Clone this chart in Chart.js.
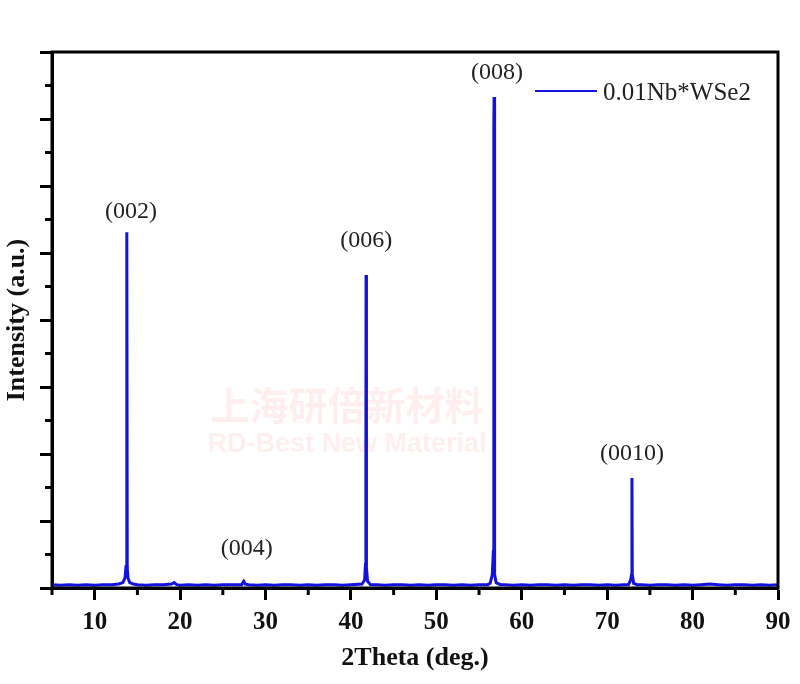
<!DOCTYPE html>
<html>
<head>
<meta charset="utf-8">
<title>XRD 0.01Nb*WSe2</title>
<script src="https://cdn.jsdelivr.net/npm/chart.js@4.4.1/dist/chart.umd.min.js"></script>
<style>
  body { margin: 0; background: #fff; }
  canvas { display: block; }
</style>
</head>
<body>
<canvas id="xrdChart" width="800" height="684"></canvas>
<script>
// XRD pattern (intensity in arbitrary units, 0..8 = one unit per major tick)
const twoTheta = [
  5, 6, 7, 8, 9, 10, 11, 12, 12.8, 13.3, 13.55, 13.68, 13.74, 13.76, 13.78, 13.81, 13.9, 14.1, 14.5,
  15, 16, 17, 18, 19, 19.3, 19.6, 20, 21, 22, 23, 24, 25, 26, 27.2, 27.45, 27.6, 28,
  29, 30, 31, 32, 33, 34, 35, 36, 37, 38, 39, 40, 41.3, 41.6, 41.7, 41.74, 41.76, 41.77,
  41.79, 41.84, 41.95, 42.3, 43, 44, 45, 46, 47, 48, 49, 50, 51, 52, 53, 54, 55, 56,
  56.3, 56.55, 56.68, 56.72, 56.74, 56.76, 56.79, 56.85, 57.0, 57.5, 58, 59, 60, 61, 62,
  63, 64, 65, 66, 67, 68, 69, 70, 71, 72, 72.5, 72.75, 72.86, 72.9, 72.94, 73.1, 73.5,
  74, 75, 76, 77, 78, 79, 80, 81, 82, 83, 84, 85, 86, 87, 88, 89, 90
];
const intensity = [
  0.05, 0.04, 0.05, 0.04, 0.05, 0.04, 0.05, 0.05, 0.06, 0.08, 0.15, 0.34, 0.2, 5.05, 5.31, 0.3, 0.15, 0.08, 0.06,
  0.05, 0.04, 0.05, 0.05, 0.06, 0.08, 0.05, 0.04, 0.05, 0.04, 0.05, 0.04, 0.05, 0.05, 0.05, 0.1, 0.06, 0.05,
  0.04, 0.05, 0.04, 0.05, 0.05, 0.04, 0.05, 0.04, 0.05, 0.05, 0.04, 0.05, 0.06, 0.12, 0.35, 0.6, 1.98, 4.67,
  0.6, 0.3, 0.1, 0.05, 0.05, 0.04, 0.05, 0.05, 0.04, 0.05, 0.04, 0.05, 0.05, 0.04, 0.05, 0.04, 0.05, 0.05,
  0.07, 0.2, 0.57, 0.5, 6.87, 7.33, 0.6, 0.2, 0.08, 0.05, 0.05, 0.04, 0.05, 0.04, 0.05,
  0.05, 0.04, 0.05, 0.04, 0.05, 0.05, 0.04, 0.05, 0.04, 0.05, 0.05, 0.12, 0.2, 1.64, 0.2, 0.07, 0.05,
  0.05, 0.04, 0.05, 0.05, 0.04, 0.05, 0.04, 0.05, 0.06, 0.05, 0.04, 0.05, 0.05, 0.04, 0.05, 0.04, 0.05
];

const seriesName = "0.01Nb*WSe2";

// peak indexing labels
const hklLabels = ["(002)", "(004)", "(006)", "(008)", "(0010)"];
const hklTheta = [14.25, 27.8, 41.8, 57.1, 72.9];
const hklLevel = [5.61, 0.58, 5.19, 7.69, 2.01];

const xTicksMajor = [10, 20, 30, 40, 50, 60, 70, 80, 90];
const xTicksMinor = [5, 15, 25, 35, 45, 55, 65, 75, 85];
const yTicksMinor = [0.5, 1.5, 2.5, 3.5, 4.5, 5.5, 6.5, 7.5];

const lineColor = "#1212dc";
const serif = "'Liberation Serif', 'Times New Roman', serif";

const points = twoTheta.map((t, i) => ({ x: t, y: intensity[i] }));

const xrdPlugin = {
  id: "xrdExtras",
  beforeDatasetsDraw(chart) {
    // faint watermark behind the pattern
    const ctx = chart.ctx;
    ctx.save();
    ctx.fillStyle = "rgba(255, 120, 120, 0.13)";
    ctx.textAlign = "center";
    ctx.textBaseline = "middle";
    ctx.font = "bold 39px 'Noto Sans CJK SC', sans-serif";
    ctx.fillText("上海研倍新材料", 347, 405);
    ctx.font = "bold 27px 'Liberation Sans', Arial, sans-serif";
    ctx.fillText("RD-Best New Material", 347, 445);
    ctx.restore();
  },
  afterDatasetsDraw(chart) {
    const ctx = chart.ctx;
    const xs = chart.scales.x;
    const ys = chart.scales.y;
    const area = chart.chartArea;

    ctx.save();
    // frame
    ctx.strokeStyle = "#000";
    ctx.lineWidth = 3;
    ctx.strokeRect(area.left, area.top, area.right - area.left, area.bottom - area.top);

    // minor ticks
    ctx.lineWidth = 3;
    ctx.beginPath();
    xTicksMinor.forEach((v) => {
      const px = xs.getPixelForValue(v);
      ctx.moveTo(px, area.bottom);
      ctx.lineTo(px, area.bottom + 7);
    });
    yTicksMinor.forEach((v) => {
      const py = ys.getPixelForValue(v);
      ctx.moveTo(area.left, py);
      ctx.lineTo(area.left - 7, py);
    });
    ctx.stroke();

    // peak labels
    ctx.fillStyle = "#222";
    ctx.font = "24px " + serif;
    ctx.textAlign = "center";
    ctx.textBaseline = "middle";
    hklLabels.forEach((lab, i) => {
      ctx.fillText(lab, xs.getPixelForValue(hklTheta[i]), ys.getPixelForValue(hklLevel[i]));
    });

    // legend
    const lx = area.right - 243;
    const ly = area.top + 39;
    ctx.strokeStyle = lineColor;
    ctx.lineWidth = 2;
    ctx.beginPath();
    ctx.moveTo(lx, ly);
    ctx.lineTo(lx + 62, ly);
    ctx.stroke();
    ctx.textAlign = "left";
    ctx.font = "25px " + serif;
    ctx.fillText(seriesName, lx + 68, ly + 2);
    ctx.restore();
  }
};

new Chart(document.getElementById("xrdChart"), {
  type: "line",
  data: {
    datasets: [
      {
        label: seriesName,
        data: points,
        borderColor: lineColor,
        borderWidth: 3,
        pointRadius: 0,
        tension: 0,
        fill: false
      }
    ]
  },
  options: {
    responsive: false,
    animation: false,
    layout: {
      padding: { top: 52, right: 22, bottom: 0, left: 0 }
    },
    plugins: {
      legend: { display: false },
      tooltip: { enabled: false }
    },
    scales: {
      x: {
        type: "linear",
        min: 5,
        max: 90,
        afterFit(scale) {
          scale.height = 96;
        },
        afterBuildTicks(scale) {
          scale.ticks = xTicksMajor.map((v) => ({ value: v }));
        },
        border: { display: true, color: "#000", width: 3 },
        grid: {
          display: true,
          drawOnChartArea: false,
          drawTicks: true,
          tickLength: 12,
          tickWidth: 3,
          tickColor: "#000"
        },
        ticks: {
          color: "#111",
          padding: 8,
          maxRotation: 0,
          font: { family: serif, size: 25, weight: "bold" },
          callback: (value) => String(value)
        },
        title: {
          display: true,
          text: "2Theta (deg.)",
          color: "#111",
          padding: { top: 0, bottom: 10 },
          font: { family: serif, size: 26, weight: "bold" }
        }
      },
      y: {
        type: "linear",
        min: 0,
        max: 8,
        afterFit(scale) {
          scale.width = 52;
        },
        border: { display: true, color: "#000", width: 3 },
        grid: {
          display: true,
          drawOnChartArea: false,
          drawTicks: true,
          tickLength: 12,
          tickWidth: 3,
          tickColor: "#000"
        },
        ticks: {
          display: false,
          stepSize: 1
        },
        title: {
          display: true,
          text: "Intensity (a.u.)",
          color: "#111",
          padding: { top: 2, bottom: 0 },
          font: { family: serif, size: 26, weight: "bold" }
        }
      }
    }
  },
  plugins: [xrdPlugin]
});
</script>
</body>
</html>
